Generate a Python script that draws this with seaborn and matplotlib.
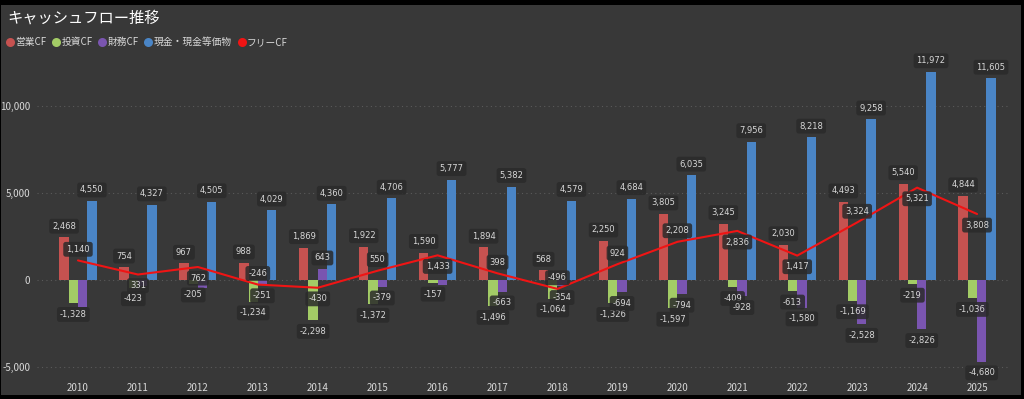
import numpy as np
import pandas as pd
import matplotlib
matplotlib.use("Agg")
import matplotlib.pyplot as plt
from matplotlib.patches import Rectangle
from matplotlib.lines import Line2D
from matplotlib.ticker import FuncFormatter
import seaborn as sns

# データ (単位: 百万円)
years = [str(y) for y in range(2010, 2026)]
eigyo_cf = [2468, 754, 967, 988, 1869, 1922, 1590, 1894, 568, 2250, 3805, 3245, 2030, 4493, 5540, 4844]
toshi_cf = [-1328, -423, -205, -1234, -2298, -1372, -157, -1496, -1064, -1326, -1597, -409, -613, -1169, -219, -1036]
zaimu_cf = [-1560, -350, -470, -251, 643, -379, -290, -663, -354, -694, -794, -928, -1580, -2528, -2826, -4680]
genkin = [4550, 4327, 4505, 4029, 4360, 4706, 5777, 5382, 4579, 4684, 6035, 7956, 8218, 9258, 11972, 11605]
free_cf = [1140, 331, 762, -246, -430, 550, 1433, 398, -496, 924, 2208, 2836, 1417, 3324, 5321, 3808]

series_names = ["営業CF", "投資CF", "財務CF", "現金・現金等価物"]
CORES = {
    "営業CF": "#C65250",
    "投資CF": "#A3CC66",
    "財務CF": "#7A55B0",
    "現金・現金等価物": "#4A85C6",
    "フリーCF": "#F01414",
}
BG = "#383838"
TXT = "#D8D8D8"

df = pd.DataFrame({
    "年度": years * 4,
    "区分": np.repeat(series_names, len(years)),
    "金額": eigyo_cf + toshi_cf + zaimu_cf + genkin,
})
df_free = pd.DataFrame({"pos": np.arange(len(years)), "フリーCF": free_cf})

sns.set_theme(style="dark")
plt.rcParams["font.family"] = ["Noto Sans CJK JP", "DejaVu Sans"]

fig = plt.figure(figsize=(10.24, 3.99), dpi=100, facecolor="black")
fig.patches.append(Rectangle((1 / 1024, 4 / 399), 1020 / 1024, 390 / 399,
                             transform=fig.transFigure, facecolor=BG,
                             edgecolor="none", zorder=-10))
ax = fig.add_axes([37 / 1024, 1 - 376 / 399, 973 / 1024, 322 / 399])
ax.set_facecolor(BG)

sns.barplot(data=df, x="年度", y="金額", hue="区分", hue_order=series_names,
            palette=[CORES[s] for s in series_names], width=0.62,
            saturation=1, ax=ax, legend=False, zorder=2,
            edgecolor="none", linewidth=0)
sns.lineplot(data=df_free, x="pos", y="フリーCF", color=CORES["フリーCF"],
             linewidth=1.5, ax=ax, zorder=4)

ax.set_ylim(-5500, 13000)
ax.set_xlim(-0.684, 15.55)
ax.set_yticks([-5000, 0, 5000, 10000])
ax.yaxis.set_major_formatter(FuncFormatter(lambda v, p: f"{v:,.0f}"))
ax.grid(axis="y", color="#5a5a5a", linestyle=(0, (1, 3)), linewidth=0.8, zorder=0)
ax.grid(axis="x", visible=False)
for s in ax.spines.values():
    s.set_visible(False)
ax.tick_params(axis="both", colors=TXT, labelsize=7, length=0, pad=5)
ax.set_xlabel("")
ax.set_ylabel("")

caixa = dict(boxstyle="round,pad=0.35,rounding_size=0.3", facecolor="#2a2a2a",
             edgecolor="none", alpha=0.85)


def rotulo(x, y, valor, abaixo, z=6):
    dy = -8 if abaixo else 8
    ax.annotate(f"{valor:,.0f}", (x, y), xytext=(0, dy), textcoords="offset points",
                ha="center", va="center", fontsize=6, color=TXT,
                family="DejaVu Sans", bbox=caixa, zorder=z)


# ラベル (財務CFは投資CFと重なる場合は非表示)
for nome, cont in zip(series_names, ax.containers):
    for i, bar in enumerate(cont):
        v = bar.get_height()
        if nome == "財務CF" and abs(zaimu_cf[i] - toshi_cf[i]) < 300:
            continue
        rotulo(bar.get_x() + bar.get_width() / 2, v, v, v < 0)

fcf_abaixo = {"2011", "2012", "2014", "2016", "2021", "2022", "2024", "2025"}
for i, v in enumerate(free_cf):
    rotulo(i, v, v, years[i] in fcf_abaixo, z=7)

fig.text(7 / 1024, 1 - 18 / 399, "キャッシュフロー推移", color="white",
         fontsize=11, va="center", ha="left")

handles = [Line2D([], [], marker="o", linestyle="none", markersize=6.5,
                  markerfacecolor=CORES[n], markeredgecolor="none", label=n)
           for n in series_names + ["フリーCF"]]
leg = fig.legend(handles=handles, loc="center left",
                 bbox_to_anchor=(1 / 1024, 1 - 42 / 399), ncol=5, frameon=False,
                 fontsize=7, handletextpad=0.05, columnspacing=0.5,
                 handlelength=1.0, borderaxespad=0)
for t in leg.get_texts():
    t.set_color(TXT)

fig.savefig("out.png", dpi=100, facecolor=fig.get_facecolor())
